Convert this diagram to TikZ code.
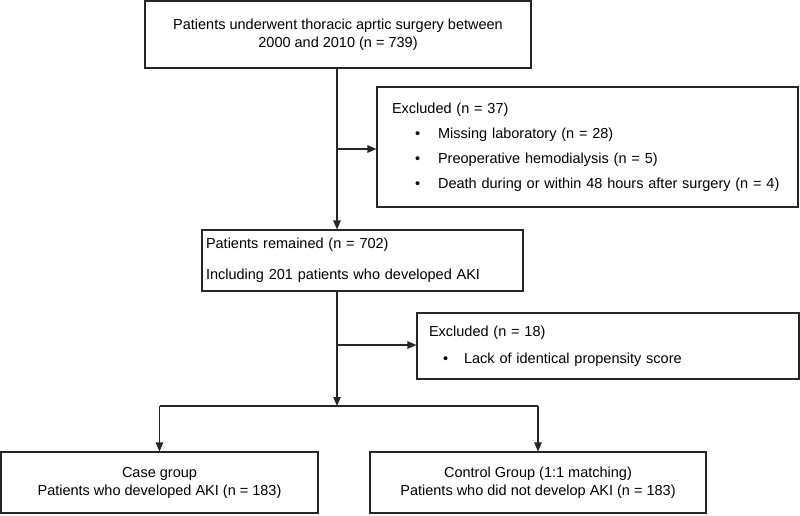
\documentclass[tikz,border=0pt]{standalone}
\usepackage{fontspec}
\setmainfont{Liberation Sans}
\usetikzlibrary{arrows.meta}

\begin{document}
\begin{tikzpicture}[x=1pt,y=-1pt,>={Triangle[length=9pt,width=7.5pt]}]
	
	% Styles for boxes and connectors
	\tikzset{
		flowbox/.style={rectangle,draw=black!85,line width=1.1pt,inner sep=0pt},
		flowline/.style={draw=black!85,line width=1.1pt}
	}
	
	\useasboundingbox (0,0) rectangle (800,515);
	
	%========================================
	% Main column
	%========================================
	\node[flowbox,minimum width=386pt,minimum height=67pt,align=center,
		font=\fontsize{14.5}{18}\selectfont] (total) at (338,34.5)
	{Patients underwent thoracic aprtic surgery between\\2000 and 2010 (n = 739)};
	
	\node[flowbox,minimum width=321pt,minimum height=61pt,inner xsep=4pt,
		text width=313pt,align=left,font=\fontsize{14.5}{31}\selectfont] (remained) at (362.5,260.5)
	{Patients remained (n = 702)\\Including 201 patients who developed AKI};
	
	%========================================
	% Exclusions
	%========================================
	\node[flowbox,minimum width=421pt,minimum height=120pt,inner xsep=15pt,
		text width=391pt,align=left,font=\fontsize{14.5}{25}\selectfont] (excl1) at (587.5,147)
	{Excluded (n = 37)\\
		\hspace*{23pt}\textbullet\hspace{18pt}Missing laboratory (n = 28)\\
		\hspace*{23pt}\textbullet\hspace{18pt}Preoperative hemodialysis (n = 5)\\
		\hspace*{23pt}\textbullet\hspace{18pt}Death during or within 48 hours after surgery (n = 4)};
	
	\node[flowbox,minimum width=382pt,minimum height=66pt,inner xsep=12pt,
		text width=358pt,align=left,font=\fontsize{14.5}{27}\selectfont] (excl2) at (608,346)
	{Excluded (n = 18)\\
		\hspace*{14pt}\textbullet\hspace{16pt}Lack of identical propensity score};
	
	%========================================
	% Matched groups
	%========================================
	\node[flowbox,minimum width=317pt,minimum height=61pt,align=center,
		font=\fontsize{14.5}{18}\selectfont] (casegrp) at (159.5,482.5)
	{Case group\\Patients who developed AKI (n = 183)};
	
	\node[flowbox,minimum width=336pt,minimum height=61pt,align=center,
		font=\fontsize{14.5}{18}\selectfont] (ctrlgrp) at (538,482.5)
	{Control Group (1:1 matching)\\Patients who did not develop AKI (n = 183)};
	
	%========================================
	% Connectors
	%========================================
	\coordinate (j1) at (337,149);
	\coordinate (j2) at (337,345);
	\coordinate (fork) at (337,406);
	
	\draw[flowline,->] (total.south -| j1) -- (remained.north -| j1);
	\draw[flowline,->] (j1) -- (excl1.west |- j1);
	\draw[flowline,->] (remained.south -| fork) -- (fork);
	\draw[flowline,->] (j2) -- (excl2.west |- j2);
	
	\draw[flowline] (casegrp.north |- fork) -- (ctrlgrp.north |- fork);
	\draw[flowline,->] (casegrp.north |- fork) -- (casegrp.north);
	\draw[flowline,->] (ctrlgrp.north |- fork) -- (ctrlgrp.north);
	
\end{tikzpicture}
\end{document}
